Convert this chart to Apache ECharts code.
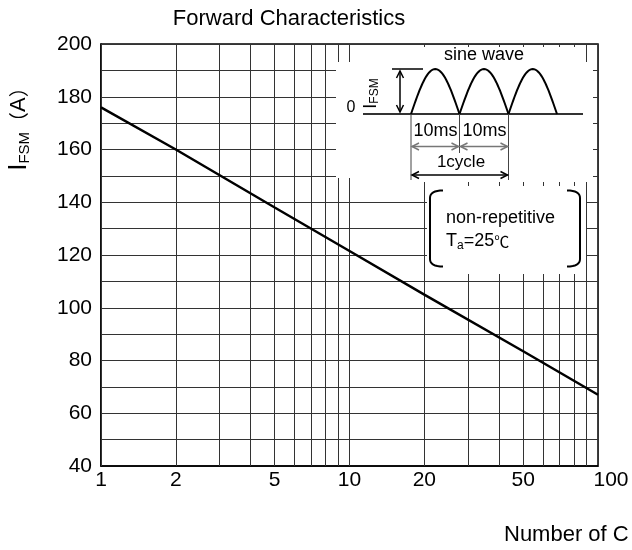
<!DOCTYPE html>
<html>
<head>
<meta charset="utf-8">
<script src="https://cdn.jsdelivr.net/npm/echarts@6/dist/echarts.min.js"></script>
<style>
html,body{margin:0;padding:0;background:#fff;}
#chart{width:632px;height:550px;}
</style>
</head>
<body>
<div id="chart"></div>
<script>
// ---- data ----
const cycles = [1, 2, 5, 10, 20, 50, 100];
const ifsmValues = [176, 160, 138, 121.5, 105, 83.5, 67];
const xTickLabels = [1, 2, 5, 10, 20, 50, 100];
const xGridValues = [2, 3, 4, 5, 6, 7, 8, 9, 20, 30, 40, 50, 60, 70, 80, 90];
const yMin = 40, yMax = 200, yGridStep = 10, yLabelStep = 20;

const FONT = '"Liberation Sans", Arial, sans-serif';
const chart = echarts.init(document.getElementById('chart'));

const lineData = cycles.map((c, i) => [c, ifsmValues[i]]);

const allX = Array.from(new Set(xGridValues.concat(xTickLabels))).sort((a, b) => a - b);
const markData = allX.map(v => {
  const labeled = xTickLabels.indexOf(v) >= 0;
  const item = { xAxis: v, label: { show: labeled } };
  if (v === 100) item.label.offset = [13, 0];
  return item;
});

// ---- inset diagram helpers (decoration) ----
const Z = 100;
function seg(x1, y1, x2, y2, color, w) {
  return { type: 'line', z: Z, silent: true, shape: { x1, y1, x2, y2 }, style: { stroke: color, lineWidth: w } };
}
function head(x, y, dx, dy, color, w) {
  const L = 7, H = 3.5;
  const px = -dy, py = dx;
  return { type: 'polyline', z: Z, silent: true,
    shape: { points: [[x - dx * L + px * H, y - dy * L + py * H], [x, y], [x - dx * L - px * H, y - dy * L - py * H]] },
    style: { stroke: color, lineWidth: w, fill: null } };
}
function dblArrow(x1, y1, x2, y2, color, w) {
  const len = Math.hypot(x2 - x1, y2 - y1), dx = (x2 - x1) / len, dy = (y2 - y1) / len;
  return [seg(x1, y1, x2, y2, color, w), head(x2, y2, dx, dy, color, w), head(x1, y1, -dx, -dy, color, w)];
}
function hump(x0, w, base, amp) {
  const pts = [];
  for (let i = 0; i <= 40; i++) {
    const t = i / 40;
    pts.push([x0 + w * t, base - amp * Math.sin(Math.PI * t)]);
  }
  return { type: 'polyline', z: Z, silent: true, shape: { points: pts }, style: { stroke: '#000', lineWidth: 2, fill: null } };
}
function quad(p0, c, p1, n) {
  const pts = [];
  for (let i = 0; i <= n; i++) {
    const t = i / n, u = 1 - t;
    pts.push([u * u * p0[0] + 2 * u * t * c[0] + t * t * p1[0], u * u * p0[1] + 2 * u * t * c[1] + t * t * p1[1]]);
  }
  return pts;
}
function bracket(xv, xe, yTop, yBot) {
  const pts = quad([xe, yTop], [xv, yTop], [xv, yTop + 7.5], 8)
    .concat(quad([xv, yBot - 7.5], [xv, yBot], [xe, yBot], 8));
  return { type: 'polyline', z: Z, silent: true, shape: { points: pts }, style: { stroke: '#000', lineWidth: 2, fill: null } };
}
function txt(x, y, text, size, extra) {
  return Object.assign({ type: 'text', z: Z, silent: true, x, y,
    style: Object.assign({ text, fontSize: size, fontFamily: FONT, fill: '#000', align: 'center', verticalAlign: 'middle' }, extra || {}) });
}
function whiteBox(x, y, w, h) {
  return { type: 'rect', z: Z - 1, silent: true, shape: { x, y, width: w, height: h }, style: { fill: '#fff' } };
}

const base = 114, amp = 45;
const graphics = [
  whiteBox(355, 47, 229, 135),
  whiteBox(336, 62, 257, 116),
  whiteBox(355, 62, 238, 120),
  whiteBox(427, 186, 159, 88),
  txt(484, 55, 'sine wave', 18),
  seg(363, base, 583, base, '#333', 2),
  hump(411, 48.5, base, amp),
  hump(459.5, 49, base, amp),
  hump(508.5, 48.5, base, amp),
  seg(392, base - amp, 423, base - amp, '#000', 1.5),
  ...dblArrow(400, base - amp + 2, 400, base - 2, '#000', 1.5),
  txt(351, 108, '0', 16),
  { type: 'text', z: Z, silent: true, x: 371, y: 93.5, rotation: Math.PI / 2,
    style: { text: '{i|I}{s|FSM}', align: 'center', verticalAlign: 'middle', fill: '#000',
      rich: { i: { fontSize: 18, fontFamily: FONT, lineHeight: 20 },
              s: { fontSize: 12, fontFamily: FONT, lineHeight: 12, verticalAlign: 'bottom' } } } },
  seg(411, base, 411, 180, '#444', 1),
  seg(459.5, base, 459.5, 153, '#444', 1),
  seg(508.5, base, 508.5, 180, '#444', 1),
  txt(435.5, 131.5, '10ms', 18),
  txt(484.5, 131.5, '10ms', 18),
  ...dblArrow(412, 146.5, 458.5, 146.5, '#777', 1.5),
  ...dblArrow(460.5, 146.5, 507.5, 146.5, '#777', 1.5),
  txt(461, 162.5, '1cycle', 17),
  ...dblArrow(412, 175, 507.5, 175, '#000', 1.5),
  bracket(430, 443, 190.5, 266.5),
  bracket(580, 567, 190.5, 266.5),
  txt(446, 218, 'non-repetitive', 18, { align: 'left' }),
  { type: 'text', z: Z, silent: true, x: 446, y: 241,
    style: { text: '{t|T}{s|a}{t|=25}{c|℃}', align: 'left', verticalAlign: 'middle', fill: '#000',
      rich: { t: { fontSize: 18, fontFamily: FONT, lineHeight: 22 },
              s: { fontSize: 12, fontFamily: FONT, lineHeight: 12, verticalAlign: 'bottom' },
              c: { fontSize: 15, fontFamily: '"Noto Sans CJK SC", sans-serif', lineHeight: 22 } } } },
  txt(289, 19, 'Forward Characteristics', 22),
  txt(504, 535, 'Number of C', 22, { align: 'left' }),
  { type: 'text', z: Z, silent: true, x: 18.5, y: 124, rotation: Math.PI / 2,
    style: { text: '{i|I}{s|FSM}{p|（}{a|A}{p|）}', align: 'center', verticalAlign: 'middle', fill: '#000',
      rich: { i: { fontSize: 26, fontFamily: FONT, lineHeight: 28 },
              s: { fontSize: 15, fontFamily: FONT, lineHeight: 20, verticalAlign: 'bottom' },
              p: { fontSize: 20, fontFamily: '"Noto Sans CJK SC", sans-serif', lineHeight: 28 },
              a: { fontSize: 22, fontFamily: FONT, lineHeight: 28 } } } }
];

const option = {
  animation: false,
  backgroundColor: '#fff',
  grid: { left: 101, right: 34, top: 44, bottom: 84, show: true, borderColor: '#000', borderWidth: 1.5, outerBoundsMode: 'none', containLabel: false },
  xAxis: {
    type: 'log', logBase: 10, min: 1, max: 100,
    axisLine: { show: true, lineStyle: { color: '#000', width: 1.5 } },
    axisTick: { show: false },
    axisLabel: { show: false },
    splitLine: { show: true, lineStyle: { color: '#333', width: 1 } },
    minorTick: { show: false }, minorSplitLine: { show: false }
  },
  yAxis: {
    type: 'value', min: yMin, max: yMax, interval: yGridStep,
    axisLine: { show: true, lineStyle: { color: '#000', width: 1.5 } },
    axisTick: { show: false },
    axisLabel: {
      color: '#000', fontSize: 21, fontFamily: FONT, margin: 9, padding: [7, 0, 0, 0],
      formatter: v => (v % yLabelStep === 0 ? String(v) : '')
    },
    splitLine: { show: true, lineStyle: { color: '#333', width: 1 } }
  },
  series: [{
    type: 'line',
    data: lineData,
    showSymbol: false,
    symbol: 'none',
    lineStyle: { color: '#000', width: 2.5 },
    z: 3,
    silent: true,
    markLine: {
      silent: true,
      symbol: 'none',
      z: 1,
      lineStyle: { color: '#333', width: 1, type: 'solid' },
      label: { show: false, position: 'start', distance: 4, color: '#000', fontSize: 21, fontFamily: FONT, formatter: p => String(p.value) },
      emphasis: { disabled: true },
      data: markData
    }
  }],
  graphic: { elements: graphics }
};
chart.setOption(option);
</script>
</body>
</html>
